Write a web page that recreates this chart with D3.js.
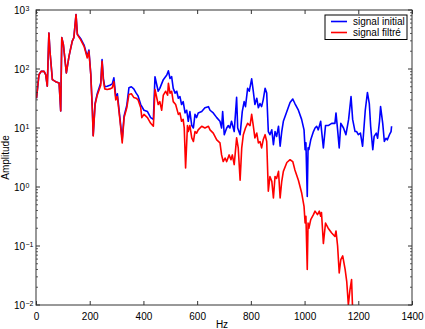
<!DOCTYPE html>
<html><head><meta charset="utf-8">
<script src="https://cdn.jsdelivr.net/npm/d3@7"></script>
<style>
html,body{margin:0;padding:0;background:#fff;}
svg{display:block;font-family:"Liberation Sans",Arial,Helvetica,sans-serif;}
</style></head>
<body>
<svg id="chart" width="425" height="329"></svg>
<script>
// ---- data ----
const freqInitial = [2,11,19,30,36,42,48,52,61,73,86,92,96,102,113,123,135,141,149,154,166,179,191,197,204,
  210,213,220,228,241,246,251,256,265,275,284,290,297,303,313,321,328,338,346,355,364,373,380,390,402,415,427,437,
  443,455,461,474,487,493,499,505,511,518,524,530,536,542,548,555,561,567,573,580,586,592,598,604,617,629,642,648,
  660,673,685,691,695,701,710,716,722,728,738,747,751,760,768,775,780,788,794,803,809,815,822,828,834,840,846,853,
  859,865,871,878,884,890,896,903,909,915,921,934,946,956,964,977,989,998,1002,1005,1010,1013,1016,1023,1033,1039,
  1045,1051,1060,1063,1070,1078,1088,1101,1113,1117,1123,1129,1135,1145,1154,1164,1173,1179,1188,1194,1200,1208,
  1216,1226,1234,1241,1246,1254,1259,1267,1272,1279,1283,1291,1297,1303,1308,1316,1322,1324];
const ampInitial = [32,80,91,91,80,51,408,200,66,61,58,19.5,340,258,86,165,296,340,834,390,330,255,162,210,82,
  20,7.5,26,38,58,145,68,50,51,53,56,71,34,38,14,6.4,16,24,48,50,46,39,35,25,20,19,15,14,
  74,42,47,66,79,93,69,74,47,39,42,32,34,25,28,18,20,13,19,11,10,17,15,18,19,22,23,20,
  18,15,13,10,19,7.7,10,11,10,13,8.7,33,10,7.7,19,28,23,47,42,68,42,25,32,22,26,23,30,47,
  39,8.7,7.7,9.3,5.2,8.7,7.2,10.7,4.9,8.7,13,19,27,31,26,20,14,9.3,4.3,5.6,0.69,4.6,4.3,6.3,8.7,10,
  10.7,9.3,13,9.3,4.6,11,11,12,12,18,9.3,4.6,12,10,7.7,14,34,14,8.7,8.7,7.7,8.2,
  4.9,20,40,26,10.7,4.3,7.2,8.2,6.7,13,23,12,5.9,6.7,6.3,7.7,8.7,10.7];

const freqFiltered = [2,11,19,30,36,42,48,52,61,73,86,92,96,102,113,123,135,141,149,154,166,179,191,197,204,
  210,213,220,228,241,246,251,256,265,275,284,290,297,303,313,321,328,338,346,355,364,373,380,390,394,402,415,427,437,
  443,455,461,468,474,483,490,493,499,505,511,520,530,536,542,548,552,557,564,567,573,580,586,592,598,604,617,629,
  642,648,660,673,685,691,697,704,710,719,726,731,738,747,753,760,766,772,780,788,797,803,809,815,822,828,834,840,
  846,853,859,865,871,878,884,890,896,903,909,915,921,934,946,956,964,977,989,998,1002,1005,1010,1013,1016,1023,
  1033,1039,1048,1055,1060,1063,1070,1078,1088,1101,1113,1117,1123,1129,1135,1142,1151,1157,1163,1169,1175,1180];
const ampFiltered = [32,80,91,91,80,51,408,200,66,61,58,19.5,340,258,86,165,296,340,834,382,314,242,154,200,80,
  19,7.3,25,36,53,135,64,46,45,46,48,61,30,34,13,5.6,15,22,37,38,33,32,30,22,15,17,15,12,10.7,
  45,25,28,20,36,42,36,57,39,42,28,25,17,18,13,14,10,2.1,11,8.7,11,6.8,5.9,8.7,8.2,9.3,10.7,10,
  10.7,9.3,8.2,6.3,5.6,3.5,2.7,3.1,2.7,3.5,2.9,3.5,2.4,6.8,4.6,1.3,4.6,7.7,10,12,11,17,11,6.8,8.2,5.6,5.9,4.6,
  6.3,7.7,5.9,0.85,1.5,1.25,0.65,1.5,1.4,1.84,0.65,1.25,1.84,2.6,2.9,2.7,1.95,1.3,0.8,0.47,0.245,0.32,0.04,0.245,0.2,0.28,
  0.34,0.39,0.34,0.39,0.32,0.37,0.11,0.245,0.2,0.166,0.145,0.18,0.1,0.035,0.059,0.068,0.04,0.025,0.01,0.018,0.027,0.006];

const xTicks = [0,200,400,600,800,1000,1200,1400];
const yExponents = [-2,-1,0,1,2,3];
const legendLabels = ["signal initial","signal filtré"];
const seriesColors = ["#0000ff","#ff0000"];

// ---- layout ----
const L = 36, R = 412, T = 10, B = 305;
const svg = d3.select("#chart");
const x = d3.scaleLinear().domain([0,1400]).range([L,R]);
const y = d3.scaleLog().domain([1e-2,1e3]).range([B,T]);

svg.append("defs").append("clipPath").attr("id","clip")
  .append("rect").attr("x",L).attr("y",T).attr("width",R-L).attr("height",B-T);

// series
const line = d3.line().x(d=>x(d[0])).y(d=>y(d[1]));
const blue = freqInitial.map((f,i)=>[f,ampInitial[i]]);
const red = freqFiltered.map((f,i)=>[f,ampFiltered[i]]);
const g = svg.append("g").attr("clip-path","url(#clip)");
g.append("path").datum(blue).attr("d",line).attr("fill","none")
  .attr("stroke",seriesColors[0]).attr("stroke-width",1.6).attr("stroke-linejoin","round");
g.append("path").datum(red).attr("d",line).attr("fill","none")
  .attr("stroke",seriesColors[1]).attr("stroke-width",1.6).attr("stroke-linejoin","round");

// frame
const axisColor = "#333";
svg.append("rect").attr("x",L).attr("y",T).attr("width",R-L).attr("height",B-T)
  .attr("fill","none").attr("stroke",axisColor).attr("stroke-width",1);

// x ticks (inward, bottom & top)
const xb = svg.append("g").attr("transform",`translate(0,${B})`)
  .call(d3.axisBottom(x).tickValues(xTicks).tickFormat(d3.format("d"))
    .tickSizeInner(-4).tickSizeOuter(0).tickPadding(8));
xb.select(".domain").remove();
xb.selectAll("line").attr("stroke",axisColor);
xb.selectAll("text").attr("font-size",10).attr("fill","#000")
  .attr("font-family","Liberation Sans, Arial, sans-serif");
const xt = svg.append("g").attr("transform",`translate(0,${T})`)
  .call(d3.axisTop(x).tickValues(xTicks).tickSizeInner(-4).tickSizeOuter(0).tickFormat(""));
xt.select(".domain").remove();
xt.selectAll("line").attr("stroke",axisColor);

// y ticks: major and minor, left & right, inward
const majors = yExponents.map(e=>Math.pow(10,e));
const minors = [];
for (let e=-2;e<3;e++) for (let k=2;k<=9;k++) minors.push(k*Math.pow(10,e));
[[L,1],[R,-1]].forEach(([x0,dir])=>{
  svg.append("g").selectAll("line.maj").data(majors).join("line")
    .attr("x1",x0).attr("x2",x0+dir*4).attr("y1",d=>y(d)).attr("y2",d=>y(d))
    .attr("stroke",axisColor);
  svg.append("g").selectAll("line.min").data(minors).join("line")
    .attr("x1",x0).attr("x2",x0+dir*2).attr("y1",d=>y(d)).attr("y2",d=>y(d))
    .attr("stroke",axisColor).attr("stroke-width",0.8);
});

// y tick labels 10^n
const yl = svg.append("g").attr("font-size",10).attr("fill","#000");
yExponents.forEach(e=>{
  const yy = y(Math.pow(10,e));
  yl.append("text").attr("x",25).attr("y",yy+4).attr("text-anchor","end").text("10");
  yl.append("text").attr("x",25.5).attr("y",yy+0.5).attr("font-size",7)
    .text(e<0 ? "\u2212"+Math.abs(e) : String(e));
});

// axis labels
svg.append("text").attr("x",(L+R)/2-2).attr("y",328).attr("text-anchor","middle")
  .attr("font-size",10).text("Hz");
svg.append("text").attr("transform",`translate(9,${(T+B)/2}) rotate(-90)`)
  .attr("text-anchor","middle").attr("font-size",10).text("Amplitude");

// legend
const lg = svg.append("g");
lg.append("rect").attr("x",325).attr("y",15).attr("width",82).attr("height",24.5)
  .attr("fill","#fff").attr("stroke","#000").attr("stroke-width",1);
legendLabels.forEach((lab,i)=>{
  const yy = 21.5 + i*11;
  lg.append("line").attr("x1",331).attr("x2",347).attr("y1",yy).attr("y2",yy)
    .attr("stroke",seriesColors[i]).attr("stroke-width",1.6);
  lg.append("text").attr("x",353).attr("y",yy+3.5).attr("font-size",10).text(lab);
});
</script>
</body></html>
